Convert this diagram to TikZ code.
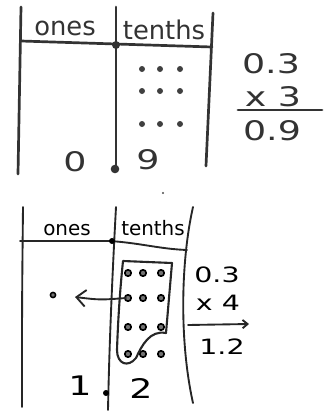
\documentclass[tikz,border=0pt]{standalone}
\usepackage{fontspec}
\setmainfont{DejaVu Sans}
\usetikzlibrary{arrows.meta}
\newcommand{\wide}[1]{\scalebox{1.35}[1]{#1}}

\begin{document}
\begin{tikzpicture}[x=0.03cm,y=-0.03cm,line cap=round,line join=round,
  pen/.style={line width=2.3pt,draw=black!80},
  thinpen/.style={line width=1.6pt,draw=black!85},
  head/.style={font=\fontsize{22}{26}\selectfont,text=black!80},
  smallhead/.style={font=\fontsize{17}{20}\selectfont},
  num/.style={font=\fontsize{23}{26}\selectfont,text=black!80},
  smallnum/.style={font=\fontsize{18}{21}\selectfont}]
  \useasboundingbox (0,0) rectangle (323,414);
  % upper table
  \draw[pen] (21,7) -- (18,174);
  \draw[pen] (116,7) -- (116,170);
  \draw[pen] (213,13) -- (206,166);
  \draw[pen] (21,41) -- (116,44) -- (212,47);
  \fill[black!80] (116,45) circle (4);
  \fill[black!80] (115,169) circle (4.3);
  \node[head] (ones1) at (65,28) {ones};
  \node[head] (tenths1) at (164,30) {tenths};
  \foreach \y in {69,91,124}
    \foreach \x in {142,160,180}
      \fill[black!75] (\x,\y) circle (3);
  \node[num] (zero1) at (75,162) {\wide{0}};
  \node[num] (nine1) at (148,160) {\wide{9}};
  \fill[black!70] (163,193) circle (1.2);
  % upper sum
  \node[num] (a1) at (271,64) {\wide{0.3}};
  \node[num] (b1) at (273,97) {\wide{x 3}};
  \draw[pen] (238,110) -- (322,110);
  \node[num] (c1) at (272,131) {\wide{0.9}};
  % lower table
  \draw[thinpen] (23,207) .. controls (22,300) .. (22,407);
  \draw[thinpen] (116,207) .. controls (111,300) and (109,360) .. (108,410);
  \draw[thinpen] (193,207) .. controls (181,260) and (179,340) .. (193,403);
  \draw[thinpen] (20,241) -- (110,241) .. controls (140,243) and (160,249) .. (187,250);
  \fill (112,241) circle (3);
  \fill (106,393) circle (3);
  \node[smallhead] (ones2) at (67,230) {ones};
  \node[smallhead] (tenths2) at (153,228) {tenths};
  \foreach \y in {273,298,327,354}
    \foreach \x in {128,143,161}
      \draw[line width=1.4pt,fill=black!55] (\x,\y) circle (3.2);
  \draw[thinpen,line width=1.8pt] (123,261) -- (172,263) -- (166,333)
    .. controls (150,330) and (142,345) .. (136,358)
    .. controls (128,368) and (117,364) .. (117,350)
    .. controls (118,320) and (120,290) .. cycle;
  \draw[line width=1.3pt,fill=black!55] (53,295) circle (2.6);
  \coordinate (src) at (126,298);
  \coordinate (tip) at (75,297);
  \draw[thinpen,-{Straight Barb[length=2.8mm,width=5mm]}] (src) .. controls (100,300) .. (tip);
  \node[num,text=black] (one2) at (80,386) {\wide{1}};
  \node[num,text=black] (two2) at (141,388) {\wide{2}};
  % lower sum
  \node[smallnum] (a2) at (217,275) {\wide{0.3}};
  \node[smallnum] (b2) at (218,303) {\wide{x 4}};
  \coordinate (ruleL) at (188,325);
  \coordinate (ruleR) at (249,324);
  \draw[thinpen,-{Straight Barb[length=1.5mm,width=2.5mm]}] (ruleL) -- (ruleR);
  \node[smallnum] (c2) at (222,347) {\wide{1.2}};
\end{tikzpicture}
\end{document}
